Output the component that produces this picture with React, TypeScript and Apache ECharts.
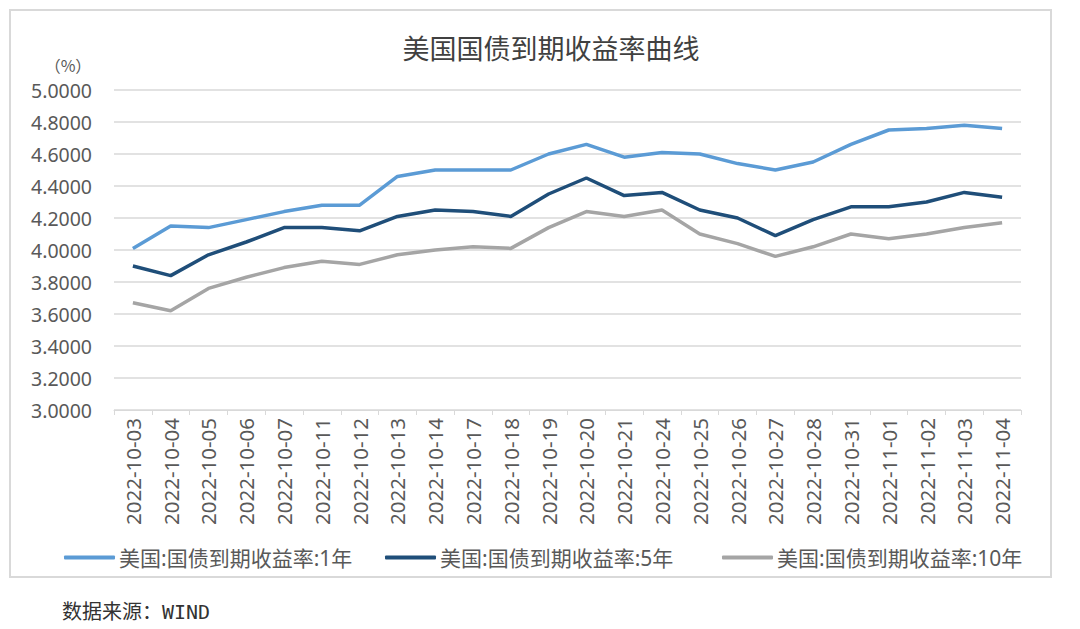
import React, { useEffect, useRef } from "react";
import * as echarts from "echarts";

const categories = [
  "2022-10-03", "2022-10-04", "2022-10-05", "2022-10-06", "2022-10-07", "2022-10-11",
  "2022-10-12", "2022-10-13", "2022-10-14", "2022-10-17", "2022-10-18", "2022-10-19",
  "2022-10-20", "2022-10-21", "2022-10-24", "2022-10-25", "2022-10-26", "2022-10-27",
  "2022-10-28", "2022-10-31", "2022-11-01", "2022-11-02", "2022-11-03", "2022-11-04",
];

const y1 = [
  4.01, 4.15, 4.14, 4.19, 4.24, 4.28, 4.28, 4.46, 4.5, 4.5, 4.5, 4.6,
  4.66, 4.58, 4.61, 4.6, 4.54, 4.5, 4.55, 4.66, 4.75, 4.76, 4.78, 4.76,
];
const y5 = [
  3.9, 3.84, 3.97, 4.05, 4.14, 4.14, 4.12, 4.21, 4.25, 4.24, 4.21, 4.35,
  4.45, 4.34, 4.36, 4.25, 4.2, 4.09, 4.19, 4.27, 4.27, 4.3, 4.36, 4.33,
];
const y10 = [
  3.67, 3.62, 3.76, 3.83, 3.89, 3.93, 3.91, 3.97, 4.0, 4.02, 4.01, 4.14,
  4.24, 4.21, 4.25, 4.1, 4.04, 3.96, 4.02, 4.1, 4.07, 4.1, 4.14, 4.17,
];

const seriesNames = ["美国:国债到期收益率:1年", "美国:国债到期收益率:5年", "美国:国债到期收益率:10年"];
const seriesColors = ["#5b9bd5", "#1f4e79", "#a5a5a5"];
const title = "美国国债到期收益率曲线";
const unitLabel = "（%）";
const sourceText = "数据来源：WIND";

const FONT = "'Noto Sans', 'Noto Sans CJK SC', sans-serif";
const CJK = "'Noto Sans CJK SC', sans-serif";
const legendLefts = [59, 380, 717];

export default function App() {
  const ref = useRef<HTMLDivElement>(null);
  useEffect(() => {
    if (!ref.current) return;
    const chart = echarts.init(ref.current, undefined, { renderer: "svg" });
    const data = [y1, y5, y10];
    chart.setOption({
      animation: false,
      backgroundColor: "#ffffff",
      textStyle: { fontFamily: FONT },
      title: {
        text: title,
        left: 546,
        top: 30,
        textAlign: "center",
        textStyle: { fontSize: 27, fontWeight: "normal", color: "#404040", fontFamily: FONT },
      },
      grid: { left: 114, right: 59, top: 90, bottom: 219 },
      legend: seriesNames.map((name, i) => ({
        left: legendLefts[i],
        top: 542,
        itemWidth: 51,
        itemHeight: 4,
        icon: "roundRect",
        textStyle: { fontSize: 21, color: "#595959", fontFamily: FONT, padding: [0, 0, 0, -1] },
        data: [name],
      })),
      xAxis: {
        type: "category",
        data: categories,
        boundaryGap: true,
        axisLine: { show: true, lineStyle: { color: "#d9d9d9", width: 1 } },
        axisTick: { show: true, length: 5, lineStyle: { color: "#d9d9d9" } },
        axisLabel: { rotate: 90, interval: 0, fontSize: 20.5, color: "#595959", margin: 8, fontFamily: FONT },
      },
      yAxis: {
        type: "value",
        min: 3,
        max: 5,
        interval: 0.2,
        axisLine: { show: false },
        axisTick: { show: false },
        splitLine: { lineStyle: { color: "#d9d9d9", width: 1.5 } },
        axisLabel: {
          fontSize: 19.5,
          lineHeight: 20,
          color: "#595959",
          margin: 22,
          fontFamily: FONT,
          formatter: (v: number) => v.toFixed(4),
        },
      },
      series: data.map((d, i) => ({
        name: seriesNames[i],
        type: "line",
        data: d,
        symbol: "none",
        lineStyle: { color: seriesColors[i], width: 3.5 },
        itemStyle: { color: seriesColors[i] },
        z: 3 - i,
      })),
      graphic: [
        {
          type: "rect",
          shape: { x: 10, y: 10, width: 1041, height: 567 },
          style: { fill: "none", stroke: "#d9d9d9", lineWidth: 2 },
          silent: true,
          z: -1,
        },
        {
          type: "text",
          x: 68,
          y: 65,
          style: {
            text: unitLabel,
            fontSize: 16,
            lineHeight: 16,
            fill: "#595959",
            fontFamily: CJK,
            align: "center",
            verticalAlign: "middle",
          },
        },
        {
          type: "text",
          x: 62,
          y: 612,
          style: {
            text: sourceText,
            fontSize: 20,
            fill: "#333333",
            fontFamily: "'DejaVu Sans Mono', 'Noto Sans CJK SC', monospace",
            align: "left",
            verticalAlign: "middle",
          },
        },
      ],
    });
    return () => chart.dispose();
  }, []);
  return (
    <div
      ref={ref}
      style={{ position: "fixed", left: 0, top: 0, width: 1080, height: 629 }}
    />
  );
}
